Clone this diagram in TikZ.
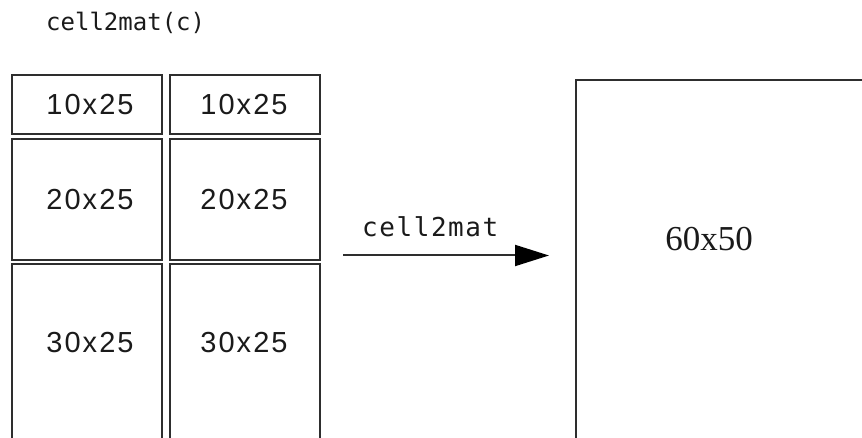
\documentclass[tikz,border=0pt]{standalone}
\usepackage{fontspec}
\usetikzlibrary{arrows.meta}
\newfontfamily\monofont{DejaVu Sans Mono}
\newfontfamily\monowide[LetterSpace=6]{DejaVu Sans Mono}
\newfontfamily\cellfont[LetterSpace=7]{Liberation Sans}
\newfontfamily\resfont{Liberation Serif}
\definecolor{edge}{HTML}{2E2E2E}
\definecolor{ink}{HTML}{1A1A1A}
\begin{document}
\begin{tikzpicture}[x=1pt,y=-1pt,
  cellbox/.style={draw=edge,line width=2pt,rectangle,inner sep=0pt,minimum width=150pt},
  celltext/.style={text=ink,inner sep=0pt,font=\cellfont\fontsize{29pt}{31pt}\selectfont},
  restext/.style={text=ink,inner sep=0pt,font=\resfont\fontsize{35pt}{37pt}\selectfont},
  codetext/.style={text=ink,inner sep=0pt},
  convarrow/.style={draw=edge,line width=2pt,-{Triangle[length=34pt,width=21pt,color=black]}}]
\useasboundingbox (0,0) rectangle (862,438);
\clip (0,0) rectangle (862,438);
% title
\node[codetext,anchor=west,font=\monofont\fontsize{24pt}{26pt}\selectfont] (title) at (46,23) {cell2mat(c)};
% cell boxes
\node[cellbox,minimum height=59pt] (a1) at (87,104.5) {};
\node[cellbox,minimum height=59pt] (b1) at (245,104.5) {};
\node[cellbox,minimum height=121pt] (a2) at (87,199.5) {};
\node[cellbox,minimum height=121pt] (b2) at (245,199.5) {};
\node[cellbox,minimum height=200pt] (a3) at (87,364) {};
\node[cellbox,minimum height=200pt] (b3) at (245,364) {};
% cell labels
\node[celltext] (ta1) at (90,105) {10x25};
\node[celltext] (tb1) at (244,105) {10x25};
\node[celltext] (ta2) at (90,200) {20x25};
\node[celltext] (tb2) at (244,200) {20x25};
\node[celltext] (ta3) at (90,343) {30x25};
\node[celltext] (tb3) at (244,343) {30x25};
% result box
\node[cellbox,minimum width=400pt,minimum height=420pt,anchor=north west] (res) at (575,79) {};
\node[restext] (tres) at (709,239) {60x50};
% arrow
\coordinate (arrS) at (343,255.5);
\coordinate (arrE) at (549,255.5);
\draw[convarrow] (arrS) -- (arrE);
\node[codetext,anchor=base west,font=\monowide\fontsize{26pt}{28pt}\selectfont] (alabel) at (362,237) {cell2mat};
\end{tikzpicture}
\end{document}
